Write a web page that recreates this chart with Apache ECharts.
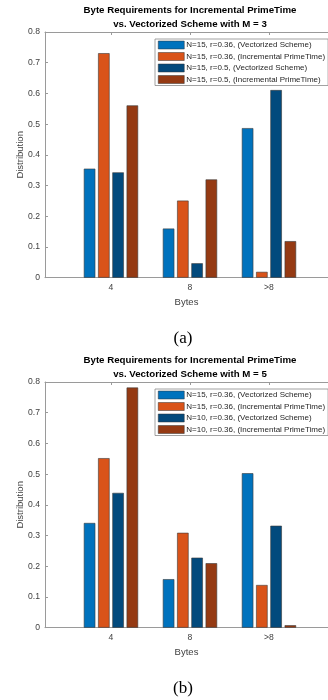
<!DOCTYPE html>
<html>
<head>
<meta charset="utf-8">
<script src="https://cdn.jsdelivr.net/npm/echarts@6/dist/echarts.min.js"></script>
<style>
  html, body { margin: 0; padding: 0; background: #fff; }
  .chart { width: 328px; height: 350px; }
</style>
</head>
<body>
<div class="chart" id="chartA"></div>
<div class="chart" id="chartB"></div>
<script>
// x categories
const categories = ['4', '8', '>8']
const colors = ['#0072BD', '#D95319', '#024A7D', '#953A13']

// (a) M = 3
const titleA = ['Byte Requirements for Incremental PrimeTime', 'vs. Vectorized Scheme with M = 3']
const namesA = [
  'N=15, r=0.36, (Vectorized Scheme)',
  'N=15, r=0.36, (Incremental PrimeTime)',
  'N=15, r=0.5, (Vectorized Scheme)',
  'N=15, r=0.5, (Incremental PrimeTime)'
]
const vecA1 = [0.355, 0.16, 0.487]
const incA1 = [0.731, 0.251, 0.019]
const vecA2 = [0.343, 0.047, 0.611]
const incA2 = [0.561, 0.32, 0.119]

// (b) M = 5
const titleB = ['Byte Requirements for Incremental PrimeTime', 'vs. Vectorized Scheme with M = 5']
const namesB = [
  'N=15, r=0.36, (Vectorized Scheme)',
  'N=15, r=0.36, (Incremental PrimeTime)',
  'N=10, r=0.36, (Vectorized Scheme)',
  'N=10, r=0.36, (Incremental PrimeTime)'
]
const vecB1 = [0.341, 0.158, 0.503]
const incB1 = [0.552, 0.309, 0.139]
const vecB2 = [0.439, 0.228, 0.332]
const incB2 = [0.782, 0.21, 0.008]

const yTicks = [0, 0.1, 0.2, 0.3, 0.4, 0.5, 0.6, 0.7, 0.8]

function makeOption(title, names, seriesVals, caption) {
  const axisColor = '#9a9a9a'
  const textColor = '#404040'
  const xBase = {
    type: 'value',
    min: 0.165,
    max: 3.747,
    axisLine: { show: true, lineStyle: { color: axisColor, width: 1 } },
    splitLine: { show: false }
  }
  return {
    animation: false,
    backgroundColor: '#FFFFFF',
    textStyle: { fontFamily: 'Liberation Sans, Arial, sans-serif' },
    grid: { left: 45, right: 0, top: 32, bottom: 72.3 },
    legend: {
      orient: 'vertical',
      left: 155,
      top: 39,
      data: names,
      itemWidth: 26,
      itemHeight: 8,
      itemGap: 2.5,
      icon: 'rect',
      padding: [1.5, 3, 1.5, 3],
      borderColor: '#8a8a8a',
      borderWidth: 0.8,
      backgroundColor: '#fff',
      selectedMode: false,
      itemStyle: { borderColor: '#333', borderWidth: 0.5 },
      textStyle: { fontSize: 8, color: '#262626', lineHeight: 9, padding: [0, 0, 0, -3] }
    },
    xAxis: [
      Object.assign({}, xBase, {
        position: 'bottom',
        name: 'Bytes',
        nameLocation: 'middle',
        nameGap: 18.5,
        nameTextStyle: { fontSize: 9.5, color: textColor },
        axisTick: { show: false },
        axisLabel: {
          customValues: [1, 2, 3],
          fontSize: 8.6,
          color: textColor,
          margin: 5.5,
          formatter: v => categories[Math.round(v) - 1]
        }
      }),
      Object.assign({}, xBase, {
        position: 'top',
        axisTick: { show: true, inside: true, length: 3, customValues: [1, 2, 3], lineStyle: { color: axisColor } },
        axisLabel: { show: false }
      })
    ],
    yAxis: {
      type: 'value',
      min: 0,
      max: 0.8,
      interval: 0.1,
      name: 'Distribution',
      nameLocation: 'middle',
      nameGap: 20,
      nameMoveOverlap: false,
      nameTextStyle: { fontSize: 9.5, color: textColor },
      axisLine: { show: true, lineStyle: { color: axisColor, width: 1 } },
      axisTick: { show: true, inside: true, length: 3, lineStyle: { color: axisColor } },
      splitLine: { show: false },
      axisLabel: {
        fontSize: 8.6,
        color: textColor,
        margin: 5,
        formatter: v => String(yTicks[Math.round(v * 10)])
      }
    },
    series: seriesVals.map((vals, i) => ({
      name: names[i],
      type: 'bar',
      xAxisIndex: 0,
      barWidth: 11.5,
      barGap: '24%',
      data: vals.map((v, j) => [j + 1, v]),
      itemStyle: { color: colors[i], borderColor: '#3a3a3a', borderWidth: 0.6 }
    })),
    graphic: [
      {
        type: 'text',
        x: 190,
        y: 4,
        style: {
          text: title.join('\n'),
          align: 'center',
          lineHeight: 13.3,
          fill: '#000',
          font: 'bold 9.7px Liberation Sans, Arial, sans-serif'
        }
      },
      {
        type: 'text',
        x: 183,
        y: 339,
        style: {
          text: caption,
          align: 'center',
          verticalAlign: 'middle',
          fill: '#000',
          font: '17px Liberation Serif, Times New Roman, serif'
        }
      }
    ]
  }
}

const chartA = echarts.init(document.getElementById('chartA'))
chartA.setOption(makeOption(titleA, namesA, [vecA1, incA1, vecA2, incA2], '(a)'))
const chartB = echarts.init(document.getElementById('chartB'))
chartB.setOption(makeOption(titleB, namesB, [vecB1, incB1, vecB2, incB2], '(b)'))
</script>
</body>
</html>
